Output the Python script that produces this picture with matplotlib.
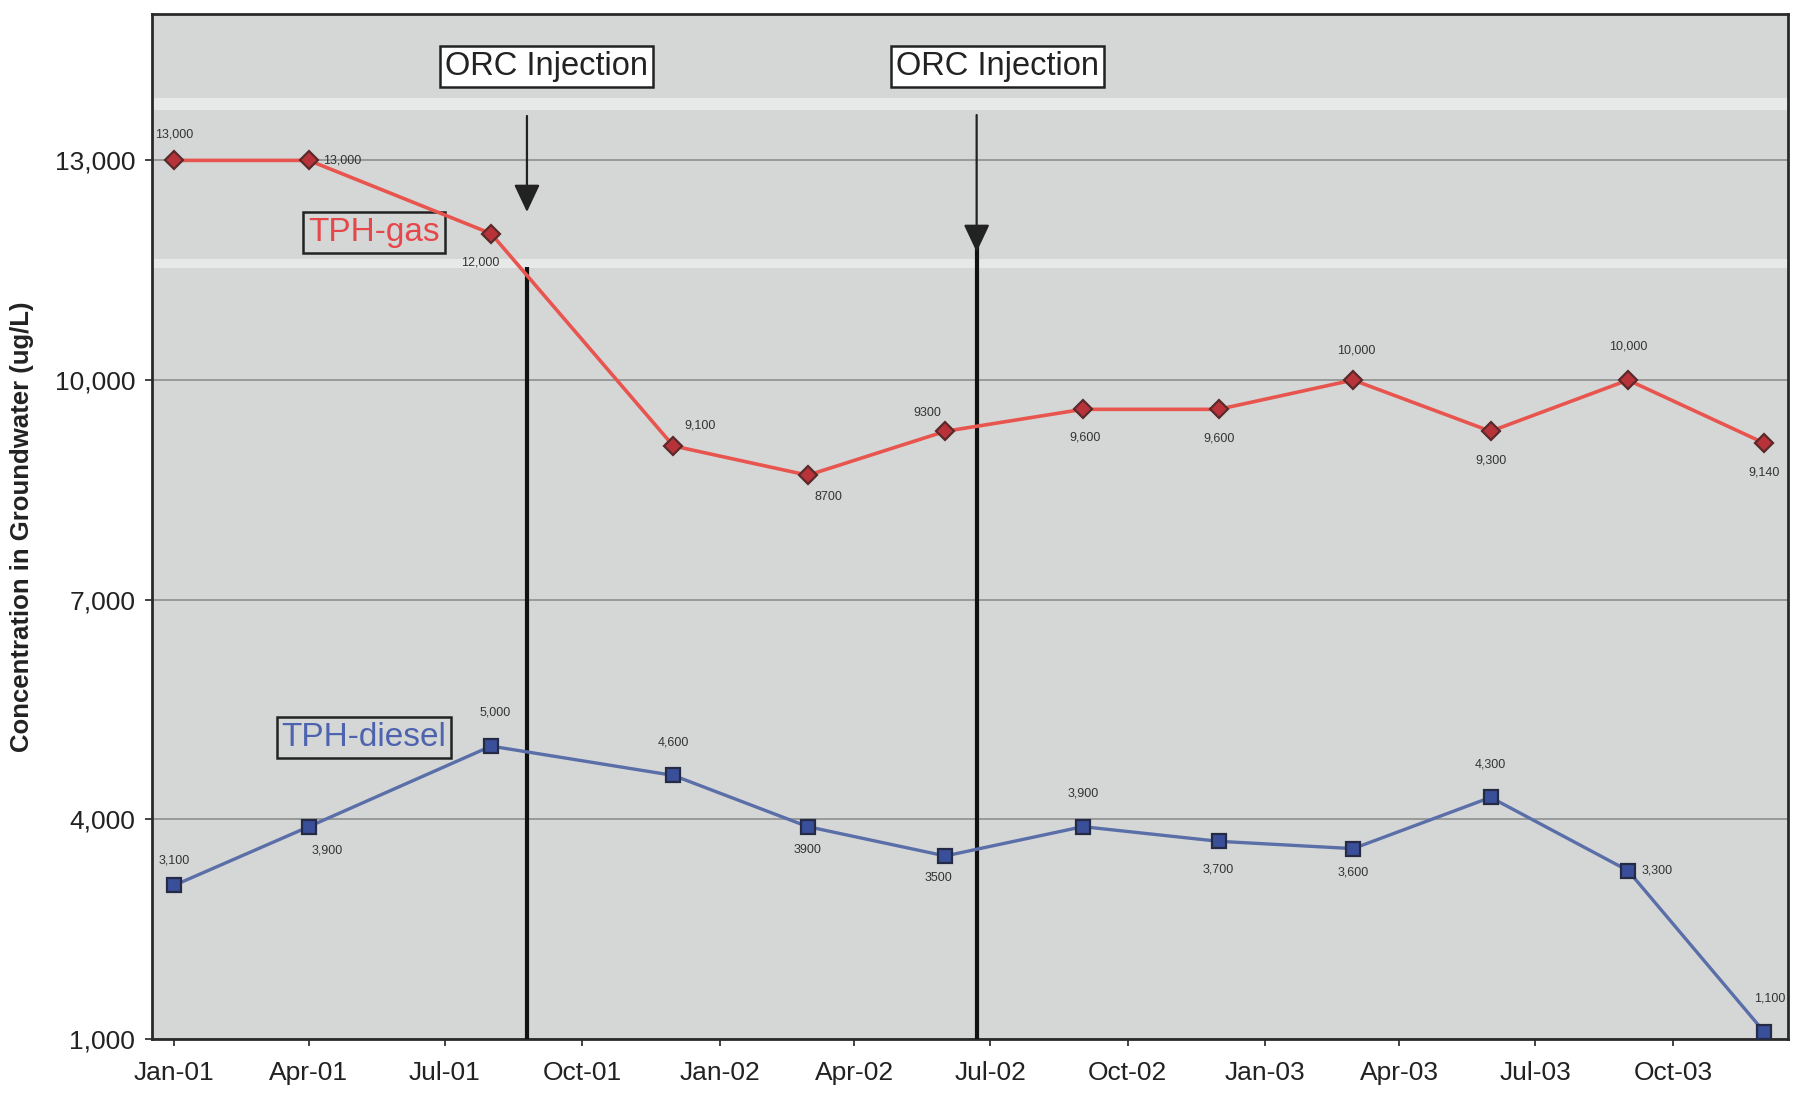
import matplotlib.pyplot as plt
import matplotlib.dates as mdates
from matplotlib.ticker import StrMethodFormatter
from datetime import date

plt.rcParams['font.family'] = ['Liberation Sans', 'DejaVu Sans']

# groundwater sampling events
sample_dates = [date(2001, 1, 1), date(2001, 4, 1), date(2001, 8, 1), date(2001, 12, 1),
                date(2002, 3, 1), date(2002, 6, 1), date(2002, 9, 1), date(2002, 12, 1),
                date(2003, 3, 1), date(2003, 6, 1), date(2003, 9, 1), date(2003, 12, 1)]
tph_gas = [13000, 13000, 12000, 9100, 8700, 9300, 9600, 9600, 10000, 9300, 10000, 9140]
tph_diesel = [3100, 3900, 5000, 4600, 3900, 3500, 3900, 3700, 3600, 4300, 3300, 1100]
# readings that were written without a thousands separator
gas_plain = [4, 5]
diesel_plain = [4, 5]

injection_dates = [date(2001, 8, 25), date(2002, 6, 22)]
injection_label = 'ORC Injection'

y_ticks = [1000, 4000, 7000, 10000, 13000]

# label offsets (points) next to each marker
gas_offsets = [(0, 19, 'center'), (10, 0, 'left'), (-8, -21, 'center'), (19, 15, 'center'),
               (15, -16, 'center'), (-13, 13, 'center'), (2, -20, 'center'), (0, -21, 'center'),
               (2, 21, 'center'), (0, -21, 'center'), (0, 24, 'center'), (0, -21, 'center')]
diesel_offsets = [(0, 18, 'center'), (13, -17, 'center'), (3, 24, 'center'), (0, 24, 'center'),
                  (0, -17, 'center'), (-5, -16, 'center'), (0, 24, 'center'), (0, -20, 'center'),
                  (0, -17, 'center'), (0, 24, 'center'), (10, 0, 'left'), (4, 24, 'center')]


def fmt(v, plain):
    return f'{v}' if plain else f'{v:,}'


fig = plt.figure(figsize=(17.94, 10.99), dpi=100)
ax = fig.add_axes([0.0847, 0.0546, 0.9119, 0.9327])
ax.set_facecolor('#d5d7d7')

# light streaks across the plot area
for y0, y1 in [(13690, 13850), (11530, 11660)]:
    ax.axhspan(y0, y1, color='white', alpha=0.45, lw=0, zorder=0.6)

ax.grid(axis='y', color='#8e9090', lw=1.2)
ax.set_axisbelow(True)

ax.plot(sample_dates, tph_gas, color='#e8554f', lw=2.6, marker='D', ms=9,
        mfc='#b8323a', mec='#5a2a2a', mew=1.6, zorder=4)
ax.plot(sample_dates, tph_diesel, color='#5a6ea8', lw=2.4, marker='s', ms=10,
        mfc='#3a4f9a', mec='#252a45', mew=1.6, zorder=4)

for i, (d, v) in enumerate(zip(sample_dates, tph_gas)):
    dx, dy, ha = gas_offsets[i]
    ax.annotate(fmt(v, i in gas_plain), (d, v), xytext=(dx, dy), textcoords='offset points',
                ha=ha, va='center', fontsize=9, color='#333333', zorder=5)
for i, (d, v) in enumerate(zip(sample_dates, tph_diesel)):
    dx, dy, ha = diesel_offsets[i]
    ax.annotate(fmt(v, i in diesel_plain), (d, v), xytext=(dx, dy), textcoords='offset points',
                ha=ha, va='center', fontsize=9, color='#333333', zorder=5)

# injection events: vertical line plus arrow from the label
line_tops = [11544, 11886]
arrow_spans = [(13607, 12295), (13620, 11749)]
label_x = [0.241, 0.517]
for d, top, (a0, a1), lx in zip(injection_dates, line_tops, arrow_spans, label_x):
    ax.vlines(d, 1000, top, color='#111111', lw=3, zorder=3)
    ax.annotate('', xy=(d, a1), xytext=(d, a0),
                arrowprops=dict(arrowstyle='-|>,head_length=0.85,head_width=0.4',
                                mutation_scale=20, lw=1.6, color='#222222',
                                shrinkA=0, shrinkB=0), zorder=3)
    ax.text(lx, 0.949, injection_label, transform=ax.transAxes, ha='center', va='center',
            fontsize=23.5, color='#222222',
            bbox=dict(boxstyle='square,pad=0.15', facecolor='white', edgecolor='#222222', lw=1.8))

ax.text(0.1357, 0.787, 'TPH-gas', transform=ax.transAxes, ha='center', va='center',
        fontsize=24, color='#e5474b',
        bbox=dict(boxstyle='square,pad=0.15', facecolor='none', edgecolor='#222222', lw=1.8))
ax.text(0.1296, 0.2937, 'TPH-diesel', transform=ax.transAxes, ha='center', va='center',
        fontsize=24, color='#4d63ad',
        bbox=dict(boxstyle='square,pad=0.15', facecolor='none', edgecolor='#222222', lw=1.8))

ax.set_xlim(date(2000, 12, 17), date(2003, 12, 17))
ax.xaxis.set_major_locator(mdates.MonthLocator(bymonth=[1, 4, 7, 10]))
ax.xaxis.set_major_formatter(mdates.DateFormatter('%b-%y'))
ax.set_ylim(1000, 15000)
ax.set_yticks(y_ticks)
ax.yaxis.set_major_formatter(StrMethodFormatter('{x:,.0f}'))

ax.tick_params(axis='both', direction='out', length=5, width=1.2, colors='#222222', labelsize=19)
ax.tick_params(axis='x', pad=11)
ax.tick_params(axis='y', pad=7)
for s in ax.spines.values():
    s.set_color('#2a2a2a')
    s.set_linewidth(2)

ax.set_ylabel('Concentration in Groundwater (ug/L)', fontsize=18.5, fontweight='bold', color='#222222')
ax.yaxis.set_label_coords(-0.072, 0.5)

fig.savefig('out.png', dpi=100, facecolor='white')
